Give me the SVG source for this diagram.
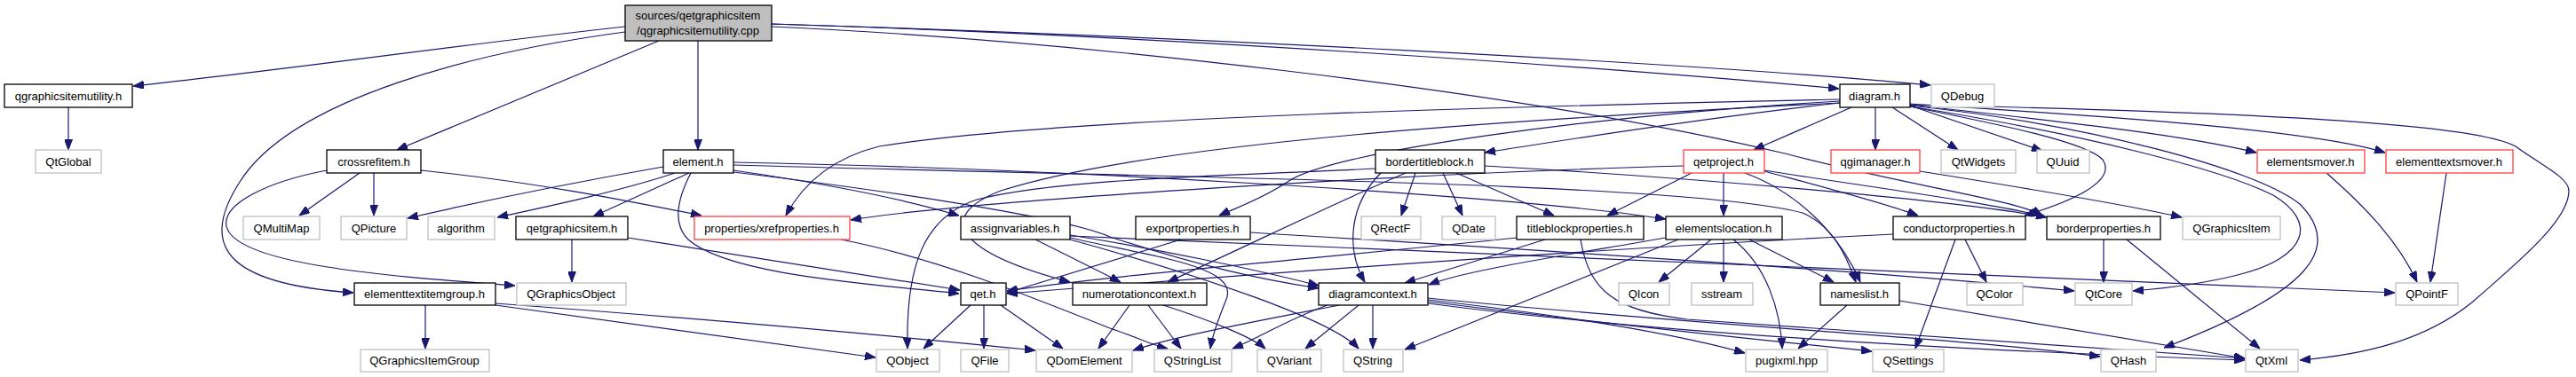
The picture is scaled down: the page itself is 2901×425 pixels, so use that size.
<svg xmlns="http://www.w3.org/2000/svg" width="2901" height="425" viewBox="0 0 2901 425">
<style>
.n rect{fill:#fff;stroke:#000;stroke-width:1.3}
.r rect{fill:#fff;stroke:#ff4040;stroke-width:1.3}
.g rect{fill:#fff;stroke:#bfbfbf;stroke-width:1.3}
.root rect{fill:#bfbfbf;stroke:#000;stroke-width:1.3}
text{font-family:"Liberation Sans",Arial,sans-serif;font-size:13px;text-anchor:middle;fill:#000}
#edges path{fill:none;stroke:#191970;stroke-width:1.2;marker-end:url(#a)}
</style>
<defs>
<marker id="a" markerWidth="12" markerHeight="9" refX="12" refY="4.5" orient="auto" markerUnits="userSpaceOnUse"><path d="M0,0 L12,4.5 L0,9 z" fill="#191970" stroke="#191970"/></marker>
</defs>
<rect width="2901" height="425" fill="#fff"/>
<g id="edges">
<path d="M704,30 C 520,50 330,78 150,97"/>
<path d="M704,36 C 540,58 330,110 270,205 C 225,275 250,320 398,330"/>
<path d="M742,46 L447,169"/>
<path d="M786,46 L786,169"/>
<path d="M869,27 C 1300,40 1800,75 2071,100"/>
<path d="M869,27 C 1300,40 1900,70 2174,96"/>
<path d="M869,30 C 1200,45 1700,100 2010,173 C 2150,210 2270,225 2300,243"/>
<path d="M77,121 L77,169"/>
<path d="M2072,116 C 1900,135 1750,160 1672,172"/>
<path d="M2085,121 L1975,169"/>
<path d="M2112,121 L2112,169"/>
<path d="M2131,121 L2205,169"/>
<path d="M2151,119 L2300,170"/>
<path d="M2151,118 C 2300,135 2450,150 2541,172"/>
<path d="M2151,117 C 2350,130 2600,145 2686,172"/>
<path d="M2151,118 C 2450,125 2780,135 2833,165 C 2860,185 2893,200 2893,215 C 2893,250 2830,300 2785,340 C 2730,385 2660,400 2590,406"/>
<path d="M2151,119 C 2350,140 2540,190 2590,230 C 2640,280 2600,330 2437,392"/>
<path d="M2151,120 C 2340,150 2500,190 2560,220 C 2610,250 2600,290 2520,310 C 2480,320 2440,325 2402,328"/>
<path d="M2151,120 C 2250,140 2350,160 2368,180 C 2385,205 2330,228 2280,243"/>
<path d="M2072,112 C 1800,118 1200,130 990,165 C 930,180 900,215 885,243"/>
<path d="M2072,114 C 1800,130 1500,170 1450,205 C 1420,225 1390,235 1373,243"/>
<path d="M2072,116 C 1700,135 1300,160 1127,215 C 1050,245 1080,285 1205,318"/>
<path d="M405,195 L337,243"/>
<path d="M421,195 L421,243"/>
<path d="M474,192 C 600,205 700,225 790,243"/>
<path d="M368,192 C 300,205 250,230 255,255 C 265,300 450,312 580,322"/>
<path d="M747,188 C 650,205 550,225 459,246"/>
<path d="M760,195 C 700,215 620,232 560,245"/>
<path d="M776,195 L668,244"/>
<path d="M778,195 C 765,220 755,250 775,270 C 820,310 980,320 1080,331"/>
<path d="M826,192 C 950,210 1030,228 1080,243"/>
<path d="M826,194 C 1000,215 1200,245 1250,267 C 1350,300 1420,315 1485,325"/>
<path d="M826,183 C 1200,190 1700,220 1876,247"/>
<path d="M826,186 C 1300,200 1900,205 2030,240 C 2065,255 2080,290 2090,318"/>
<path d="M479,344 L479,393"/>
<path d="M558,342 C 800,360 1000,378 1166,395"/>
<path d="M558,344 C 750,370 900,390 986,403"/>
<path d="M644,270 L644,318"/>
<path d="M707,268 C 850,290 1000,315 1081,327"/>
<path d="M947,270 C 1050,290 1150,330 1250,370 C 1280,380 1300,390 1315,393"/>
<path d="M1166,270 L1262,318"/>
<path d="M1205,265 C 1300,280 1420,305 1485,322"/>
<path d="M1205,268 C 1300,290 1400,300 1380,340 C 1370,365 1365,380 1363,393"/>
<path d="M1205,270 C 1350,310 1500,360 1530,393"/>
<path d="M1205,266 C 1600,280 2200,310 2697,330"/>
<path d="M1330,270 L1134,330"/>
<path d="M1408,262 C 1700,280 2100,305 2336,328"/>
<path d="M1740,270 L1582,319"/>
<path d="M1708,268 C 1500,290 1250,310 1134,328"/>
<path d="M1780,270 C 1790,330 1820,350 1900,360 C 2200,380 2400,395 2528,404"/>
<path d="M1594,195 L1578,243"/>
<path d="M1625,195 L1647,243"/>
<path d="M1640,195 L1750,243"/>
<path d="M1555,195 C 1520,230 1515,280 1537,318"/>
<path d="M1672,187 C 1900,200 2200,225 2305,245"/>
<path d="M1549,190 C 1400,198 1200,200 1100,225 C 1040,245 1020,300 1022,393"/>
<path d="M1583,195 C 1500,230 1420,270 1315,318"/>
<path d="M1941,195 L1941,243"/>
<path d="M1987,193 C 2050,210 2120,228 2160,243"/>
<path d="M1987,192 C 2100,210 2250,230 2297,243"/>
<path d="M1965,195 C 2020,215 2070,260 2095,318"/>
<path d="M1905,195 L1810,243"/>
<path d="M1896,187 C 1600,195 1100,225 958,248"/>
<path d="M1927,270 L1868,318"/>
<path d="M1941,270 L1941,318"/>
<path d="M1970,270 L2065,318"/>
<path d="M1952,270 C 1990,300 2005,350 2007,393"/>
<path d="M1890,270 L1582,394"/>
<path d="M1876,268 C 1750,290 1650,305 1609,321"/>
<path d="M2080,344 L2025,393"/>
<path d="M2139,339 C 2300,365 2450,390 2528,404"/>
<path d="M2213,270 L2237,318"/>
<path d="M2202,270 L2157,393"/>
<path d="M2132,264 C 1800,280 1400,310 1134,331"/>
<path d="M2369,270 L2369,318"/>
<path d="M2395,270 L2545,393"/>
<path d="M2162,193 C 2300,215 2400,232 2457,245"/>
<path d="M2620,195 C 2660,230 2700,270 2722,318"/>
<path d="M2755,195 L2737,318"/>
<path d="M1093,344 L1040,393"/>
<path d="M1108,344 L1108,393"/>
<path d="M1127,344 L1197,393"/>
<path d="M1272,344 L1237,393"/>
<path d="M1293,344 L1330,393"/>
<path d="M1310,344 C 1360,360 1410,380 1425,393"/>
<path d="M1530,344 L1470,393"/>
<path d="M1546,344 L1546,393"/>
<path d="M1508,344 C 1400,365 1320,380 1276,395"/>
<path d="M1495,344 C 1450,360 1420,380 1388,393"/>
<path d="M1608,338 C 1800,360 1900,380 1965,398"/>
<path d="M1608,340 C 1850,370 2000,385 2108,396"/>
<path d="M1608,336 C 1950,370 2200,380 2365,402"/>
<path d="M1608,342 C 1900,380 2300,398 2528,406"/>
</g>
<g id="root" class="root"><rect x="704" y="6" width="165" height="40"/><text x="786" y="22">sources/qetgraphicsitem</text><text x="786" y="39">/qgraphicsitemutility.cpp</text></g>
<g id="qgraphicsitemutility_h" class="n"><rect x="5" y="95" width="144" height="26"/><text x="77" y="113">qgraphicsitemutility.h</text></g>
<g id="diagram_h" class="n"><rect x="2072" y="95" width="79" height="26"/><text x="2111" y="113">diagram.h</text></g>
<g id="QDebug" class="g"><rect x="2175" y="95" width="71" height="26"/><text x="2210" y="113">QDebug</text></g>
<g id="QtGlobal" class="g"><rect x="40" y="169" width="74" height="26"/><text x="77" y="187">QtGlobal</text></g>
<g id="crossrefitem_h" class="n"><rect x="368" y="169" width="106" height="26"/><text x="421" y="187">crossrefitem.h</text></g>
<g id="element_h" class="n"><rect x="747" y="169" width="79" height="26"/><text x="786" y="187">element.h</text></g>
<g id="bordertitleblock_h" class="n"><rect x="1549" y="169" width="123" height="26"/><text x="1610" y="187">bordertitleblock.h</text></g>
<g id="qetproject_h" class="r"><rect x="1896" y="169" width="91" height="26"/><text x="1941" y="187">qetproject.h</text></g>
<g id="qgimanager_h" class="r"><rect x="2062" y="169" width="100" height="26"/><text x="2112" y="187">qgimanager.h</text></g>
<g id="QtWidgets" class="g"><rect x="2186" y="169" width="84" height="26"/><text x="2228" y="187">QtWidgets</text></g>
<g id="QUuid" class="g"><rect x="2294" y="169" width="59" height="26"/><text x="2323" y="187">QUuid</text></g>
<g id="elementsmover_h" class="r"><rect x="2542" y="169" width="121" height="26"/><text x="2602" y="187">elementsmover.h</text></g>
<g id="elementtextsmover_h" class="r"><rect x="2687" y="169" width="143" height="26"/><text x="2758" y="187">elementtextsmover.h</text></g>
<g id="QMultiMap" class="g"><rect x="274" y="244" width="86" height="26"/><text x="317" y="262">QMultiMap</text></g>
<g id="QPicture" class="g"><rect x="384" y="244" width="74" height="26"/><text x="421" y="262">QPicture</text></g>
<g id="algorithm" class="g"><rect x="482" y="244" width="75" height="26"/><text x="519" y="262">algorithm</text></g>
<g id="qetgraphicsitem_h" class="n"><rect x="581" y="244" width="126" height="26"/><text x="644" y="262">qetgraphicsitem.h</text></g>
<g id="xrefproperties_h" class="r"><rect x="782" y="244" width="175" height="26"/><text x="869" y="262">properties/xrefproperties.h</text></g>
<g id="assignvariables_h" class="n"><rect x="1082" y="244" width="123" height="26"/><text x="1143" y="262">assignvariables.h</text></g>
<g id="exportproperties_h" class="n"><rect x="1279" y="244" width="129" height="26"/><text x="1343" y="262">exportproperties.h</text></g>
<g id="QRectF" class="g"><rect x="1533" y="244" width="67" height="26"/><text x="1566" y="262">QRectF</text></g>
<g id="QDate" class="g"><rect x="1624" y="244" width="60" height="26"/><text x="1654" y="262">QDate</text></g>
<g id="titleblockproperties_h" class="n"><rect x="1708" y="244" width="143" height="26"/><text x="1779" y="262">titleblockproperties.h</text></g>
<g id="elementslocation_h" class="n"><rect x="1876" y="244" width="131" height="26"/><text x="1941" y="262">elementslocation.h</text></g>
<g id="conductorproperties_h" class="n"><rect x="2132" y="244" width="149" height="26"/><text x="2206" y="262">conductorproperties.h</text></g>
<g id="borderproperties_h" class="n"><rect x="2305" y="244" width="128" height="26"/><text x="2369" y="262">borderproperties.h</text></g>
<g id="QGraphicsItem" class="g"><rect x="2458" y="244" width="110" height="26"/><text x="2513" y="262">QGraphicsItem</text></g>
<g id="elementtextitemgroup_h" class="n"><rect x="399" y="319" width="159" height="25"/><text x="478" y="336">elementtextitemgroup.h</text></g>
<g id="QGraphicsObject" class="g"><rect x="582" y="319" width="123" height="25"/><text x="643" y="336">QGraphicsObject</text></g>
<g id="qet_h" class="n"><rect x="1082" y="319" width="51" height="25"/><text x="1107" y="336">qet.h</text></g>
<g id="numerotationcontext_h" class="n"><rect x="1208" y="319" width="151" height="25"/><text x="1283" y="336">numerotationcontext.h</text></g>
<g id="diagramcontext_h" class="n"><rect x="1485" y="319" width="123" height="25"/><text x="1546" y="336">diagramcontext.h</text></g>
<g id="QIcon" class="g"><rect x="1823" y="319" width="57" height="25"/><text x="1851" y="336">QIcon</text></g>
<g id="sstream" class="g"><rect x="1905" y="319" width="69" height="25"/><text x="1939" y="336">sstream</text></g>
<g id="nameslist_h" class="n"><rect x="2050" y="319" width="89" height="25"/><text x="2094" y="336">nameslist.h</text></g>
<g id="QColor" class="g"><rect x="2215" y="319" width="63" height="25"/><text x="2246" y="336">QColor</text></g>
<g id="QtCore" class="g"><rect x="2337" y="319" width="64" height="25"/><text x="2369" y="336">QtCore</text></g>
<g id="QPointF" class="g"><rect x="2698" y="319" width="70" height="25"/><text x="2733" y="336">QPointF</text></g>
<g id="QGraphicsItemGroup" class="g"><rect x="406" y="394" width="145" height="25"/><text x="478" y="411">QGraphicsItemGroup</text></g>
<g id="QObject" class="g"><rect x="987" y="394" width="71" height="25"/><text x="1022" y="411">QObject</text></g>
<g id="QFile" class="g"><rect x="1082" y="394" width="54" height="25"/><text x="1109" y="411">QFile</text></g>
<g id="QDomElement" class="g"><rect x="1167" y="394" width="108" height="25"/><text x="1221" y="411">QDomElement</text></g>
<g id="QStringList" class="g"><rect x="1300" y="394" width="87" height="25"/><text x="1343" y="411">QStringList</text></g>
<g id="QVariant" class="g"><rect x="1416" y="394" width="72" height="25"/><text x="1452" y="411">QVariant</text></g>
<g id="QString" class="g"><rect x="1513" y="394" width="67" height="25"/><text x="1546" y="411">QString</text></g>
<g id="pugixml_hpp" class="g"><rect x="1966" y="394" width="92" height="25"/><text x="2012" y="411">pugixml.hpp</text></g>
<g id="QSettings" class="g"><rect x="2109" y="394" width="80" height="25"/><text x="2149" y="411">QSettings</text></g>
<g id="QHash" class="g"><rect x="2366" y="394" width="62" height="25"/><text x="2397" y="411">QHash</text></g>
<g id="QtXml" class="g"><rect x="2529" y="394" width="59" height="25"/><text x="2558" y="411">QtXml</text></g>
</svg>
